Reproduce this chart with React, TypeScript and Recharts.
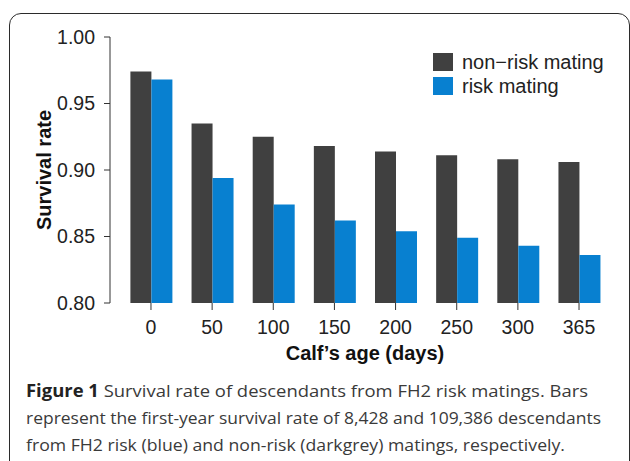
import { BarChart, Bar, XAxis, YAxis } from 'recharts'

const ages = ['0', '50', '100', '150', '200', '250', '300', '365']
const nonRiskRate = [0.974, 0.935, 0.925, 0.918, 0.914, 0.911, 0.908, 0.906]
const riskRate = [0.968, 0.894, 0.874, 0.862, 0.854, 0.849, 0.843, 0.836]
const yTicks = [0.8, 0.85, 0.9, 0.95, 1.0]

const DARK = '#404040'
const BLUE = '#0880d0'
const FONT = '"Liberation Sans", Arial, Helvetica, sans-serif'

const data = ages.map((age, i) => ({
  age,
  nonRisk: nonRiskRate[i],
  risk: riskRate[i],
}))

const legendItems = [
  { label: 'non\u2212risk mating', color: DARK },
  { label: 'risk mating', color: BLUE },
]

function ChartLegend() {
  return (
    <div
      style={{
        position: 'absolute',
        left: 433,
        top: 50,
        fontFamily: FONT,
        fontSize: 20,
        color: '#222',
      }}
    >
      {legendItems.map((item) => (
        <div key={item.label} style={{ display: 'flex', alignItems: 'center', height: 24 }}>
          <div style={{ width: 20, height: 18, background: item.color, marginRight: 9 }} />
          <span style={{ lineHeight: '24px', whiteSpace: 'nowrap' }}>{item.label}</span>
        </div>
      ))}
    </div>
  )
}

export default function App() {
  const axisText = { fill: '#222', fontSize: 19.5, fontFamily: FONT }

  return (
    <div
      style={{
        position: 'absolute',
        left: 0,
        top: 0,
        width: 630,
        height: 461,
        overflow: 'hidden',
        background: '#fff',
      }}
    >
      {/* figure frame */}
      <div
        style={{
          position: 'absolute',
          left: 9,
          top: 13,
          width: 621,
          height: 480,
          boxSizing: 'border-box',
          border: '1.5px solid #2b2b2b',
          borderRadius: 12,
        }}
      />

      <div style={{ position: 'absolute', left: 0, top: 0 }}>
        <BarChart
          width={630}
          height={370}
          data={data}
          margin={{ top: 37, right: 20.4, bottom: 7, left: 30 }}
          barSize={21}
          barGap={0}
        >
          <XAxis
            dataKey="age"
            height={60}
            padding={{ left: 10.4, right: 0 }}
            axisLine={false}
            tickLine={{ stroke: '#333' }}
            tickSize={7}
            tickMargin={10}
            tick={axisText}
            label={{
              content: () => (
                <text
                  x={365}
                  y={360}
                  textAnchor="middle"
                  fontFamily={FONT}
                  fontSize={20}
                  fontWeight="bold"
                  fill="#111"
                >
                  Calf’s age (days)
                </text>
              ),
            }}
          />
          <YAxis
            width={80}
            domain={[0.8, 1.0]}
            ticks={yTicks}
            allowDataOverflow
            axisLine={{ stroke: '#333' }}
            tickLine={{ stroke: '#333' }}
            tickSize={6}
            tickMargin={9}
            tick={axisText}
            tickFormatter={(v: number) => v.toFixed(2)}
            label={{
              content: () => (
                <text
                  x={51}
                  y={170}
                  transform="rotate(-90 51 170)"
                  textAnchor="middle"
                  fontFamily={FONT}
                  fontSize={20}
                  fontWeight="bold"
                  fill="#111"
                >
                  Survival rate
                </text>
              ),
            }}
          />
          <Bar dataKey="nonRisk" name="non−risk mating" fill={DARK} isAnimationActive={false} />
          <Bar dataKey="risk" name="risk mating" fill={BLUE} isAnimationActive={false} />
        </BarChart>
      </div>

      <ChartLegend />

      {/* caption */}
      <svg
        width={630}
        height={461}
        style={{ position: 'absolute', left: 0, top: 0, pointerEvents: 'none' }}
      >
        <g fontFamily='"Open Sans", "Noto Sans", sans-serif' fontSize={17} fill="#3a3a3a">
          <text x={26} y={397} textLength={562} lengthAdjust="spacingAndGlyphs">
            <tspan fontWeight="bold" fill="#222">Figure 1</tspan> Survival rate of descendants from FH2 risk matings. Bars
          </text>
          <text x={26} y={424} textLength={575} lengthAdjust="spacingAndGlyphs">
            represent the first-year survival rate of 8,428 and 109,386 descendants
          </text>
          <text x={26} y={451} textLength={539} lengthAdjust="spacingAndGlyphs">
            from FH2 risk (blue) and non-risk (darkgrey) matings, respectively.
          </text>
        </g>
      </svg>
    </div>
  )
}
